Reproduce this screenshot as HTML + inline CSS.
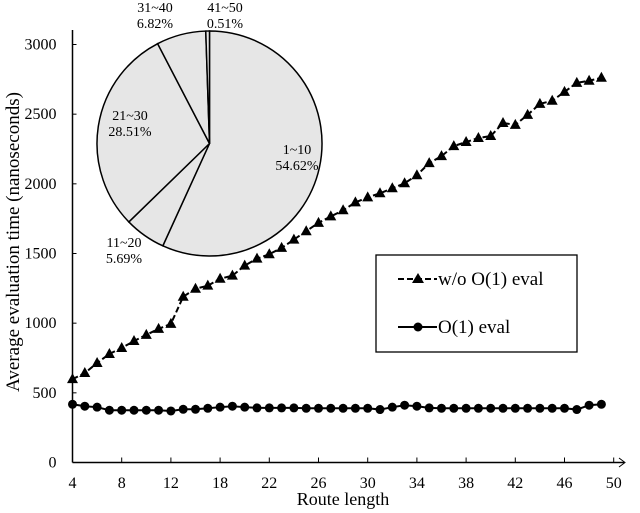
<!DOCTYPE html>
<html><head><meta charset="utf-8"><style>
body{margin:0;background:#fff}
svg{display:block;font-family:"Liberation Serif",serif}
</style></head><body>
<svg id="chart" width="640" height="513" viewBox="0 0 640 513">
<g id="axes"></g>
<g id="series"></g>
<g id="pie"></g>
<text transform="translate(19,242) rotate(-90)" text-anchor="middle" font-size="19">Average evaluation time (nanoseconds)</text>
<text x="343" y="505" text-anchor="middle" font-size="18">Route length</text>
<g>
<rect x="376" y="255" width="201" height="97" fill="#fff" stroke="#000" stroke-width="1.3"/>
<g>
<line x1="398" y1="279" x2="437" y2="279" stroke="#000" stroke-width="2" stroke-dasharray="6,3"/>
<polygon points="418,273 424,283 412,283" fill="#000"/>
<text x="438" y="285" font-size="19">w/o O(1) eval</text></g>
<g>
<line x1="398" y1="327" x2="437" y2="327" stroke="#000" stroke-width="2"/>
<circle cx="418" cy="327" r="4.5" fill="#000"/>
<text x="438" y="333" font-size="19">O(1) eval</text></g>
</g>
</svg>
<script>
const xLabels=["4","8","12","18","22","26","30","34","38","42","46","50"];
const yTicks=[0,500,1000,1500,2000,2500,3000];
const withoutO1=[598,642,714,779,822,872,916,959,995,1190,1247,1269,1319,1341,1413,1463,1495,1540,1600,1660,1720,1766,1810,1867,1903,1932,1968,2004,2062,2149,2199,2271,2300,2329,2343,2437,2423,2495,2574,2596,2660,2725,2740,2761];
const withO1=[418,404,397,375,375,375,375,375,370,382,382,389,397,404,397,392,392,392,392,389,389,389,389,389,389,380,397,411,404,392,389,389,389,389,389,389,389,389,389,389,389,380,411,418];
const pieLabels=["1~10","11~20","21~30","31~40","41~50"];
const pieValues=[54.62,5.69,28.51,6.82,0.51];
const NS="http://www.w3.org/2000/svg";
const X0=72.5,DX=12.3,Y0=462.5,SY=418/3000;
const xs=i=>X0+i*DX, ys=v=>Y0-v*SY;
function mk(t,a,p){const e=document.createElementNS(NS,t);for(const k in a)e.setAttribute(k,a[k]);p.appendChild(e);return e;}
const ax=document.getElementById('axes');
let e=mk('line',{x1:X0,y1:30,x2:X0,y2:Y0,stroke:'#000','stroke-width':1.5},ax);

e=mk('line',{x1:X0,y1:Y0,x2:624,y2:Y0,stroke:'#000','stroke-width':1.5},ax);

mk('polyline',{points:'619,458 625,462.5 619,467',fill:'none',stroke:'#000','stroke-width':1},ax);
yTicks.forEach(v=>{const y=ys(v);
mk('line',{x1:X0,y1:y,x2:X0+4,y2:y,stroke:'#000','stroke-width':1},ax);
const t=mk('text',{x:X0-16,y:y+5,'text-anchor':'end','font-size':16},ax);t.textContent=v;
});
xLabels.forEach((l,k)=>{const x=xs(k*4);
mk('line',{x1:x,y1:Y0,x2:x,y2:Y0-5,stroke:'#000','stroke-width':1},ax);
const t=mk('text',{x:x,y:488,'text-anchor':'middle','font-size':16},ax);t.textContent=l;
});
const sg=document.getElementById('series');
let p=mk('polyline',{points:withoutO1.map((v,i)=>xs(i)+','+ys(v)).join(' '),fill:'none',stroke:'#000','stroke-width':2,'stroke-dasharray':'6,3'},sg);

withoutO1.forEach((v,i)=>{const x=xs(i),y=ys(v);
const m=mk('polygon',{points:`${x},${y-6} ${x+5.5},${y+4} ${x-5.5},${y+4}`,fill:'#000'},sg);
});
p=mk('polyline',{points:withO1.map((v,i)=>xs(i)+','+ys(v)).join(' '),fill:'none',stroke:'#000','stroke-width':2},sg);

withO1.forEach((v,i)=>{const m=mk('circle',{cx:xs(i),cy:ys(v),r:4.5,fill:'#000'},sg);
});
const pg=document.getElementById('pie');
const CX=209.5,CY=143.5,R=112.5;
const tot=pieValues.reduce((a,b)=>a+b,0);
let a0=0;
const lblPos=[[297,154],[124,247],[130,120],[155,12],[225,12]];
pieValues.forEach((v,i)=>{const a1=a0+v/tot*2*Math.PI;
const x0=CX+R*Math.sin(a0),y0=CY-R*Math.cos(a0),x1=CX+R*Math.sin(a1),y1=CY-R*Math.cos(a1);
const big=(a1-a0)>Math.PI?1:0;
const s=mk('path',{d:`M${CX},${CY} L${x0},${y0} A${R},${R} 0 ${big} 1 ${x1},${y1} Z`,fill:'#e6e6e6',stroke:'#000','stroke-width':1.5},pg);

const t=mk('text',{x:lblPos[i][0],y:lblPos[i][1],'text-anchor':'middle','font-size':14},pg);

const t1=mk('tspan',{x:lblPos[i][0],dy:0},t);t1.textContent=pieLabels[i];
const t2=mk('tspan',{x:lblPos[i][0],dy:16},t);t2.textContent=v.toFixed(2)+'%';
a0=a1;});
</script>
</body></html>
